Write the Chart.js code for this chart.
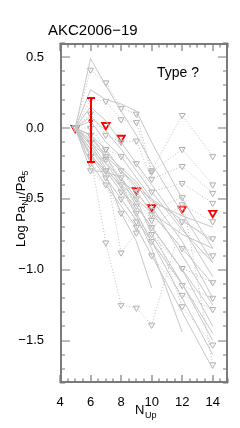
<!DOCTYPE html>
<html>
<head>
<meta charset="utf-8">
<script src="https://cdn.jsdelivr.net/npm/chart.js@4/dist/chart.umd.min.js"></script>
<style>
  html, body { margin: 0; padding: 0; background: #fff; }
</style>
</head>
<body>
<canvas id="grafico" width="240" height="428"></canvas>
<script>
// niveles superiores (eje x) donde hay valores
const nUp = [5, 6, 7, 8, 9, 10, 12, 14];

// lineas grises continuas (sin marcador)
const continuas = [
  [0, 0.49, 0.30, 0.12, -0.05, -0.25, -0.60, -0.95],
  [0, 0.27, 0.20, 0.17, 0.12, -0.10, -0.50, -0.85],
  [0, 0.15, 0.05, -0.10, -0.25, -0.40, -0.70, -1.05],
  [0, 0.05, -0.10, -0.20, -0.35, -0.50, -0.80, -1.20],
  [0, -0.05, -0.20, -0.30, -0.40, -0.55, -0.90, -1.25],
  [0, -0.10, -0.25, -0.35, -0.50, -0.60, -0.85, -1.10],
  [0, -0.15, -0.30, -0.45, -0.55, -0.70, -1.00, -1.40],
  [0, -0.20, -0.30, -0.40, -0.60, -0.80, -1.10, -1.50],
  [0, -0.20, -0.35, -0.50, -0.65, -0.80, -1.20, -1.60],
  [0, -0.25, -0.40, -0.55, -0.70, -0.90, -1.30, -1.70],
  [0, -0.10, -0.20, -0.38, -0.45, -0.60, -0.75, -0.85],
  [0, -0.05, -0.15, -0.30, -0.42, -0.50, -0.65, -0.80],
  [0, -0.30, -0.31, -0.35, -0.55, -0.70, -1.00, -1.30],
  [0, -0.15, -0.25, -0.40, -0.50, -0.75, -1.10, -1.45],
  [0, -0.12, -0.28, -0.42, -0.62, -0.85, -1.44, null],
  [0, -0.18, -0.33, -0.60, -0.80, -1.13, null, null],
  [0, 0.08, -0.02, -0.15, -0.30, -0.45, -0.72, -0.95],
  [0, -0.08, -0.18, -0.28, -0.38, -0.52, -0.62, -0.70]
];

// lineas grises punteadas con triangulos
const punteadas = [
  [0, 0.41, 0.32, 0.14, 0.10, -0.30, 0.09, -0.20],
  [0, 0.20, 0.19, 0.06, 0.04, -0.31, -0.15, -0.40],
  [0, 0.10, -0.05, -0.10, -0.09, -0.36, -0.27, -0.46],
  [0, -0.05, -0.15, -0.20, -0.25, -0.45, -0.39, -0.53],
  [0, -0.20, -0.81, -1.25, -1.27, -1.39, -0.66, -0.78],
  [0, -0.10, -0.30, -0.88, -0.74, -0.61, -0.85, -0.90],
  [0, -0.25, -0.35, -0.50, -0.66, -0.75, -0.99, -1.09],
  [0, -0.20, -0.30, -0.45, -0.60, -0.80, -1.11, -1.20],
  [0, -0.30, -0.40, -0.60, -0.70, -0.90, -1.18, -1.28],
  [0, -0.10, -0.20, -0.35, -0.50, -0.65, -1.26, -1.53],
  [0, -0.05, -0.22, -0.40, -0.55, -0.70, -0.54, -0.66],
  [0, 0.00, -0.15, -0.30, -0.45, -0.58, -0.49, -1.67]
];

// promedio (rojo) y barra de error en N=6
const promX = [5, 7, 8, 9, 10, 12, 14];
const promY = [0.0, 0.02, -0.07, -0.44, -0.56, -0.57, -0.60];
const errX = 6;
const errCentro = 0.05;
const errMin = -0.24;
const errMax = 0.21;

const xTicks = [4, 6, 8, 10, 12, 14];
const yTicks = [-1.5, -1.0, -0.5, 0.0, 0.5];

function puntos(valores) {
  return nUp.map((x, i) => ({ x: x, y: valores[i] })).filter((p) => p.y !== null);
}

const datasets = [];
for (const serie of continuas) {
  datasets.push({
    data: puntos(serie),
    borderColor: "#c6c6c6",
    borderWidth: 1,
    pointRadius: 0,
    showLine: true,
  });
}
for (const serie of punteadas) {
  datasets.push({
    data: puntos(serie),
    borderColor: "#bdbdbd",
    borderWidth: 1,
    borderDash: [1, 2],
    pointStyle: "triangle",
    rotation: 180,
    pointRadius: 3.5,
    pointBorderColor: "#b0b0b0",
    pointBackgroundColor: "rgba(0,0,0,0)",
    pointBorderWidth: 1,
    showLine: true,
  });
}
datasets.push({
  data: [{ x: errX, y: errCentro }],
  pointStyle: "circle",
  pointRadius: 1.8,
  pointBackgroundColor: "#ff0000",
  pointBorderColor: "#ff0000",
  showLine: false,
});
datasets.push({
  data: promX.map((x, i) => ({ x: x, y: promY[i] })),
  pointStyle: "triangle",
  rotation: 180,
  pointRadius: 4.3,
  pointBorderColor: "#ff0000",
  pointBackgroundColor: "rgba(0,0,0,0)",
  pointBorderWidth: 1.8,
  showLine: false,
});

// barra de error, marco, marcas internas y textos estilo IDL
const marco = {
  id: "marco",
  afterDatasetsDraw(chart) {
    const ctx = chart.ctx;
    const sx = chart.scales.x;
    const sy = chart.scales.y;
    ctx.save();

    // barra de error
    const px = Math.round(sx.getPixelForValue(errX));
    const y1 = Math.round(sy.getPixelForValue(errMax));
    const y2 = Math.round(sy.getPixelForValue(errMin));
    ctx.fillStyle = "#ff0000";
    ctx.fillRect(px - 1, y1, 2, y2 - y1);
    ctx.fillRect(px - 4, y1 - 1, 8, 2);
    ctx.fillRect(px - 4, y2 - 1, 8, 2);

    // marco
    const L = Math.round(sx.left), R = Math.round(sx.right);
    const T = Math.round(sy.top), B = Math.round(sy.bottom);
    ctx.setLineDash([]);
    ctx.strokeStyle = "#7a7a7a";
    ctx.lineWidth = 2;
    ctx.strokeRect(L + 1, T + 1, R - L - 2, B - T - 2);

    // marcas internas
    ctx.lineWidth = 1.2;
    ctx.beginPath();
    for (let v = 4; v <= 15.001; v += 0.5) {
      const tx = Math.round(sx.getPixelForValue(v));
      const largo = xTicks.includes(v) ? 8 : 4.5;
      ctx.moveTo(tx, B); ctx.lineTo(tx, B - largo);
      ctx.moveTo(tx, T); ctx.lineTo(tx, T + largo);
    }
    for (let k = -18; k <= 6; k++) {
      const ty = Math.round(sy.getPixelForValue(k / 10));
      const largo = k % 5 === 0 ? 10 : 5;
      ctx.moveTo(L, ty); ctx.lineTo(L + largo, ty);
      ctx.moveTo(R, ty); ctx.lineTo(R - largo, ty);
    }
    ctx.stroke();

    ctx.fillStyle = "#000";
    ctx.textBaseline = "alphabetic";
    ctx.font = "15px 'Liberation Sans', Arial, sans-serif";
    ctx.fillText("AKC2006\u221219", 48, 35);
    ctx.font = "14px 'Liberation Sans', Arial, sans-serif";
    ctx.fillText("Type ?", 157, 77);

    // titulo eje x: N_Up
    ctx.font = "13px 'Liberation Sans', Arial, sans-serif";
    ctx.fillText("N", 135, 414);
    ctx.font = "9px 'Liberation Sans', Arial, sans-serif";
    ctx.fillText("Up", 145, 418);

    // titulo eje y: Log Pa_{N_u}/Pa_5
    ctx.translate(25, 247);
    ctx.rotate(-Math.PI / 2);
    ctx.font = "13px 'Liberation Sans', Arial, sans-serif";
    let tx = 0;
    ctx.fillText("Log Pa", tx, 0); tx += ctx.measureText("Log Pa").width;
    ctx.font = "9px 'Liberation Sans', Arial, sans-serif";
    ctx.fillText("N", tx, 3); tx += ctx.measureText("N").width;
    ctx.font = "6px 'Liberation Sans', Arial, sans-serif";
    ctx.fillText("u", tx, 5); tx += ctx.measureText("u").width + 1;
    ctx.font = "13px 'Liberation Sans', Arial, sans-serif";
    ctx.fillText("/Pa", tx, 0); tx += ctx.measureText("/Pa").width;
    ctx.font = "9px 'Liberation Sans', Arial, sans-serif";
    ctx.fillText("5", tx, 3);
    ctx.restore();
  },
};

new Chart(document.getElementById("grafico"), {
  type: "scatter",
  data: { datasets },
  plugins: [marco],
  options: {
    responsive: false,
    animation: false,
    layout: { padding: { top: 43, right: 12, left: 0, bottom: 0 } },
    plugins: { legend: { display: false }, tooltip: { enabled: false } },
    scales: {
      x: {
        type: "linear",
        min: 4,
        max: 15,
        grid: { display: false },
        border: { display: false },
        afterBuildTicks: (s) => { s.ticks = xTicks.map((v) => ({ value: v })); },
        afterFit: (s) => { s.height = 45; },
        ticks: {
          color: "#000",
          padding: 4,
          maxRotation: 0,
          font: { family: "'Liberation Sans', Arial, sans-serif", size: 13 },
          callback: (v) => String(v),
        },
      },
      y: {
        type: "linear",
        min: -1.8,
        max: 0.6,
        grid: { display: false },
        border: { display: false },
        afterBuildTicks: (s) => { s.ticks = yTicks.map((v) => ({ value: v })); },
        afterFit: (s) => { s.width = 60; },
        ticks: {
          color: "#000",
          padding: 8,
          font: { family: "'Liberation Sans', Arial, sans-serif", size: 13 },
          callback: (v) => v.toFixed(1).replace("-", "\u2212"),
        },
      },
    },
  },
});
</script>
</body>
</html>
